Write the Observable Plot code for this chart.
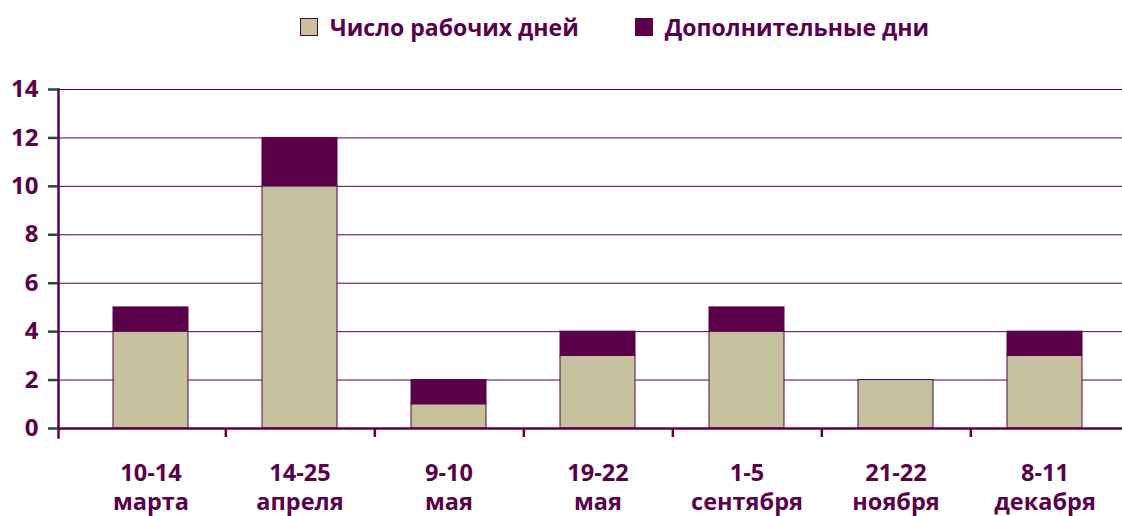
<!DOCTYPE html>
<html><head><meta charset="utf-8">
<script src="https://cdn.jsdelivr.net/npm/d3@7"></script>
<script src="https://cdn.jsdelivr.net/npm/@observablehq/plot@0.6"></script>
<style>
body{margin:0;background:#fff;font-family:"Open Sans",sans-serif;}
#legend{height:55px;display:flex;align-items:center;justify-content:flex-start;font-weight:700;font-size:23px;color:#5a0048;padding-left:272px;padding-bottom:2px;box-sizing:border-box}
.item{display:flex;align-items:center;margin:0 28px}
.sw{width:18px;height:18px;box-sizing:border-box;border:1.5px solid #5a0048;margin-right:12px}
</style></head>
<body>
<div id="legend"></div>
<div id="chart"></div>
<script>
const dateRanges = ["10-14","14-25","9-10","19-22","1-5","21-22","8-11"];
const months = ["марта","апреля","мая","мая","сентября","ноября","декабря"];
const workDays = [4,10,1,3,4,2,3];
const extraDays = [1,2,1,1,1,0,1];
const seriesNames = ["Число рабочих дней","Дополнительные дни"];
const seriesColors = ["#c5c29d","#5a0048"];
const yTicks = [0,2,4,6,8,10,12,14];

const purple = "#5a0048";
const rows = [];
dateRanges.forEach((c,i)=>{
  rows.push({cat:c, series:seriesNames[0], value:workDays[i]});
  rows.push({cat:c, series:seriesNames[1], value:extraDays[i]});
});
const monthOf = new Map(dateRanges.map((d,i)=>[d, months[i]]));

const legend = document.getElementById("legend");
seriesNames.forEach((n,i)=>{
  const it=document.createElement("div");it.className="item";
  const sw=document.createElement("div");sw.className="sw";sw.style.background=seriesColors[i];
  const t=document.createElement("span");t.textContent=n;
  it.append(sw,t);legend.append(it);
});

const chart = Plot.plot({
  width:1122, height:461,
  marginLeft:58, marginRight:0, marginTop:34, marginBottom:88,
  style:{fontFamily:"Open Sans, sans-serif", fontWeight:700, fontSize:"22px", color:purple, background:"#fff"},
  x:{type:"band", domain:dateRanges, range:[73,1121], paddingInner:0.5, paddingOuter:0.25, label:null},
  y:{domain:[0,14], ticks:yTicks, label:null},
  color:{domain:seriesNames, range:seriesColors},
  marks:[
    Plot.gridY(yTicks.slice(1), {stroke:purple, strokeOpacity:1, strokeWidth:1}),
    Plot.barY(rows, {x:"cat", y:"value", fill:"series", stroke:purple, strokeWidth:1, order:seriesNames}),
    Plot.ruleY([0], {stroke:purple, strokeWidth:2.5}),
    Plot.frame({anchor:"left", stroke:purple, strokeWidth:2.5, insetBottom:-9}),
    Plot.axisY(yTicks, {tickSize:10, tickPadding:10, stroke:"#1b4d3e", strokeWidth:2.5, fill:purple, fontSize:24, fontWeight:700, label:null}),
    Plot.axisX(dateRanges.slice(0,6), {tickSize:9, tickFormat:()=>"", dx:74.85, stroke:purple, strokeWidth:2.5, label:null}),
    Plot.axisX(dateRanges, {tickSize:0, tickPadding:36, fill:purple, fontSize:23.5, fontWeight:700, label:null}),
    Plot.axisX(dateRanges, {tickSize:0, tickPadding:65, tickFormat:d=>monthOf.get(d), fill:purple, fontSize:23.5, fontWeight:700, label:null})
  ]
});
document.getElementById("chart").append(chart);
</script>
</body></html>
